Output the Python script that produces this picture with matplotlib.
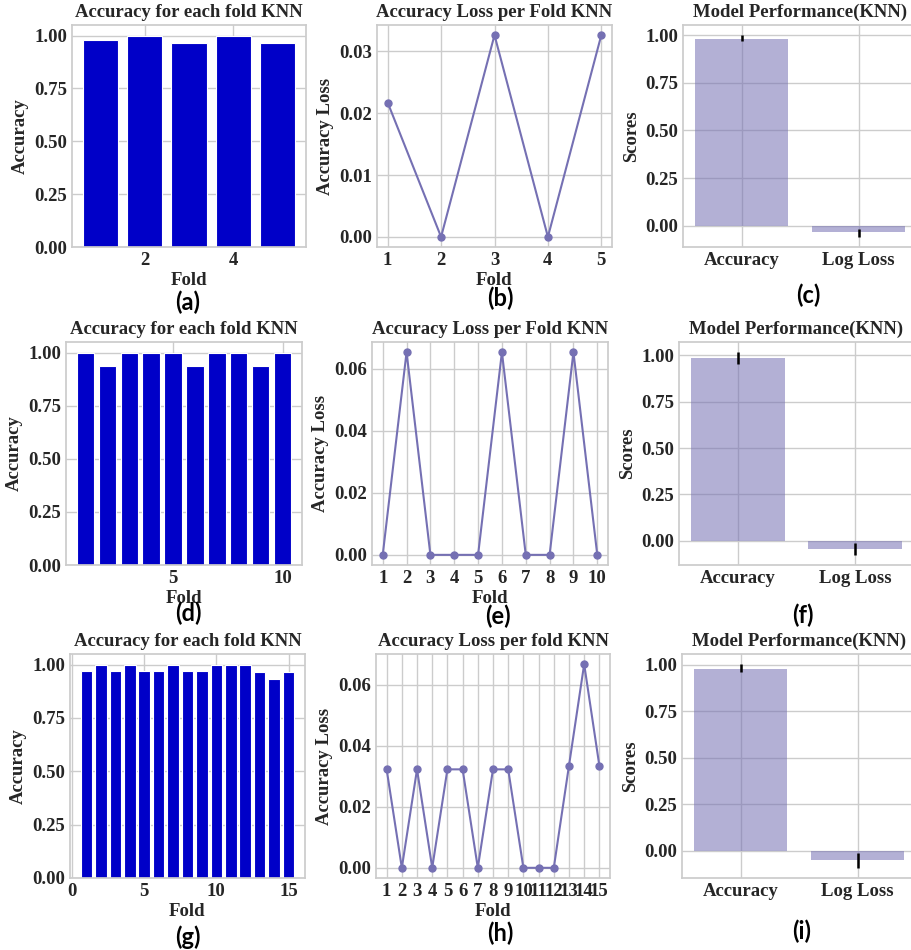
import matplotlib
matplotlib.use("Agg")
import matplotlib.pyplot as plt
import numpy as np

# ---------------- data ----------------
folds5 = [1, 2, 3, 4, 5]
acc5 = [0.978, 1.0, 0.967, 1.0, 0.967]
loss5 = [0.0217, 0.0, 0.0326, 0.0, 0.0326]

folds10 = [1, 2, 3, 4, 5, 6, 7, 8, 9, 10]
acc10 = [1.0, 0.935, 1.0, 1.0, 1.0, 0.935, 1.0, 1.0, 0.935, 1.0]
loss10 = [0.0, 0.0654, 0.0, 0.0, 0.0, 0.0654, 0.0, 0.0, 0.0654, 0.0]

folds15 = list(range(1, 16))
acc15 = [0.968, 1.0, 0.968, 1.0, 0.968, 0.968, 1.0, 0.968, 0.968, 1.0, 1.0, 1.0, 0.967, 0.933, 0.967]
loss15 = [0.0323, 0.0, 0.0323, 0.0, 0.0323, 0.0323, 0.0, 0.0323, 0.0323, 0.0, 0.0, 0.0, 0.0335, 0.0668, 0.0335]

metrics = ["Accuracy", "Log Loss"]
perf5_mean = [0.979, -0.035]
perf5_low = [0.970, -0.059]
perf5_high = [1.000, -0.017]
perf10_mean = [0.984, -0.043]
perf10_low = [0.955, -0.077]
perf10_high = [1.018, -0.013]
perf15_mean = [0.980, -0.050]
perf15_low = [0.960, -0.093]
perf15_high = [1.004, -0.013]

panel_labels = ["(a)", "(b)", "(c)", "(d)", "(e)", "(f)", "(g)", "(h)", "(i)"]

# ---------------- style ----------------
plt.rcParams.update({
    "font.family": ["Liberation Serif", "DejaVu Serif"],
    "font.weight": "bold",
    "axes.labelweight": "bold",
    "axes.titleweight": "bold",
    "axes.edgecolor": ".8",
    "axes.linewidth": 1.25,
    "axes.grid": True,
    "grid.color": ".8",
    "grid.linewidth": 1.0,
    "axes.axisbelow": True,
    "xtick.bottom": False,
    "ytick.left": False,
    "xtick.major.size": 0,
    "ytick.major.size": 0,
    "text.color": ".15",
    "xtick.color": ".15",
    "ytick.color": ".15",
    "axes.labelcolor": ".15",
    "font.size": 13.5,
    "xtick.labelsize": 13.5,
    "ytick.labelsize": 13.5,
    "axes.titlesize": 13.5,
    "axes.labelsize": 13.5,
})

W, H = 911, 950
fig = plt.figure(figsize=(W / 100, H / 100), dpi=100)


def ax_px(left, top, right, bottom):
    return fig.add_axes([left / W, 1 - bottom / H, (right - left) / W, (bottom - top) / H])


BAR_BLUE = "#0000c8"
LINE_PURPLE = "#7570b3"


def acc_panel(ax, folds, acc):
    ax.bar(folds, acc, color=BAR_BLUE, edgecolor="white", linewidth=0.8)
    ax.set_title("Accuracy for each fold KNN")
    ax.set_xlabel("Fold", labelpad=2)
    ax.set_ylabel("Accuracy")


def loss_panel(ax, folds, loss, title):
    ax.plot(folds, loss, color=LINE_PURPLE, marker="o", markersize=5, linewidth=1.5)
    ax.set_xticks(folds)
    ax.set_title(title)
    ax.set_xlabel("Fold", labelpad=2)
    ax.set_ylabel("Accuracy Loss")


def perf_panel(ax, mean, low, high):
    x = np.arange(len(metrics))
    yerr = np.array([np.array(mean) - np.array(low), np.array(high) - np.array(mean)])
    ax.bar(x, mean, width=0.8, color=LINE_PURPLE, alpha=0.55, linewidth=0)
    ax.errorbar(x, mean, yerr=yerr, fmt="none", ecolor="black", elinewidth=1.8)
    ax.set_xticks(x)
    ax.set_xticklabels(metrics)
    ax.set_xlim(-0.5, 1.5)
    ax.set_title("Model Performance(KNN)")
    ax.set_ylabel("Scores")


# Row 1
a = ax_px(72, 25, 306, 247)
acc_panel(a, folds5, acc5)
b = ax_px(377, 25, 612, 247)
loss_panel(b, folds5, loss5, "Accuracy Loss per Fold KNN")
c = ax_px(683, 25, 917, 247)
perf_panel(c, perf5_mean, perf5_low, perf5_high)

# Row 2
d = ax_px(66, 342, 302, 565)
acc_panel(d, folds10, acc10)
e = ax_px(372, 342, 608, 565)
loss_panel(e, folds10, loss10, "Accuracy Loss per Fold KNN")
f = ax_px(679, 342, 914, 565)
perf_panel(f, perf10_mean, perf10_low, perf10_high)

# Row 3
g = ax_px(70, 654, 305, 878)
acc_panel(g, folds15, acc15)
h = ax_px(376, 654, 610, 878)
loss_panel(h, folds15, loss15, "Accuracy Loss per fold KNN")
i_ax = ax_px(682, 654, 916, 878)
perf_panel(i_ax, perf15_mean, perf15_low, perf15_high)

# Panel labels
label_pos = [(188, 302), (500, 298), (808, 295),
             (188, 613), (498, 616), (803, 615),
             (188, 937), (500, 933), (802, 931)]
for lab, (px, py) in zip(panel_labels, label_pos):
    fig.text(px / W, 1 - py / H, lab, ha="center", va="center",
             family=["Lato", "DejaVu Sans"], fontweight="bold", fontsize=17, color="black")

fig.savefig("out.png", dpi=100)
